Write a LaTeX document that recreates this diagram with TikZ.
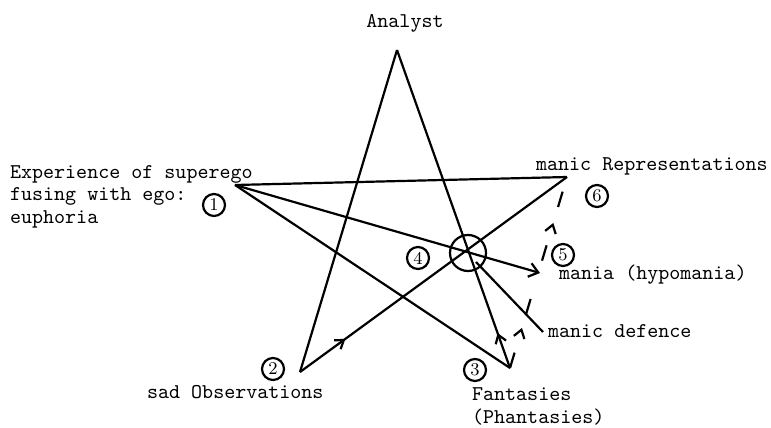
\documentclass[tikz,border=0pt]{standalone}
\usepackage{tikz}
\usetikzlibrary{arrows.meta,calc,decorations.markings}

\begin{document}
\begin{tikzpicture}[
    x=0.5pt, y=-0.5pt,
    line width=1.1pt,
    lbl/.style={font=\fontsize{10.5}{11.25}\selectfont\ttfamily, inner sep=0pt},
    num/.style={draw, circle, minimum size=11pt, inner sep=0pt, font=\small},
    midarrow/.style={postaction={solid, decorate, decoration={markings,
        mark=at position #1 with {\arrow{Straight Barb[length=4pt, width=5.5pt]}}}}},
    >={Straight Barb[length=4.5pt, width=7pt]}
  ]
  \useasboundingbox (0,0) rectangle (771,428);

  % points of the star
  \coordinate (analyst) at (397,50);
  \coordinate (exp) at (235,185);
  \coordinate (rep) at (567,177);
  \coordinate (obs) at (300,372);
  \coordinate (fant) at (510,368);
  \coordinate (hub) at (468,253);
  \coordinate (hubend) at (476,262);
  \coordinate (mania) at (540,273);
  \coordinate (defence) at (543,332);

  % labels
  \node[lbl, anchor=base] (analystlbl) at (405,27) {Analyst};
  \node[lbl, anchor=north west, align=left] (explbl) at (9,164)
    {Experience of superego\\fusing with ego:\\euphoria};
  \node[lbl, anchor=base west] (replbl) at (535,170) {manic Representations};
  \node[lbl, anchor=base west] (manialbl) at (558,279) {mania (hypomania)};
  \node[lbl, anchor=base west] (defencelbl) at (547,337) {manic defence};
  \node[lbl, anchor=base west] (obslbl) at (146,398) {sad Observations};
  \node[lbl, anchor=north west, align=left] (fantlbl) at (471,387)
    {Fantasies\\(Phantasies)};

  % numbers
  \node[num] (n1) at (214,205) {1};
  \node[num] (n2) at (273,369) {2};
  \node[num] (n3) at (475,370) {3};
  \node[num] (n4) at (418,258) {4};
  \node[num] (n5) at (563,255) {5};
  \node[num] (n6) at (597,196) {6};

  % star lines
  \draw (analyst) -- (obs);
  \draw[midarrow=0.11] (fant) -- (analyst);
  \draw (exp) -- (rep);
  \draw (exp) -- (fant);
  \draw[->] (exp) -- (mania);
  \draw[midarrow=0.17] (obs) -- (rep);
  \draw (hubend) -- (defence);
  \draw[dash pattern=on 8pt off 20pt, midarrow=0.21, midarrow=0.76] (fant) -- (rep);
  \draw (hub) circle[radius=9pt];
\end{tikzpicture}
\end{document}
